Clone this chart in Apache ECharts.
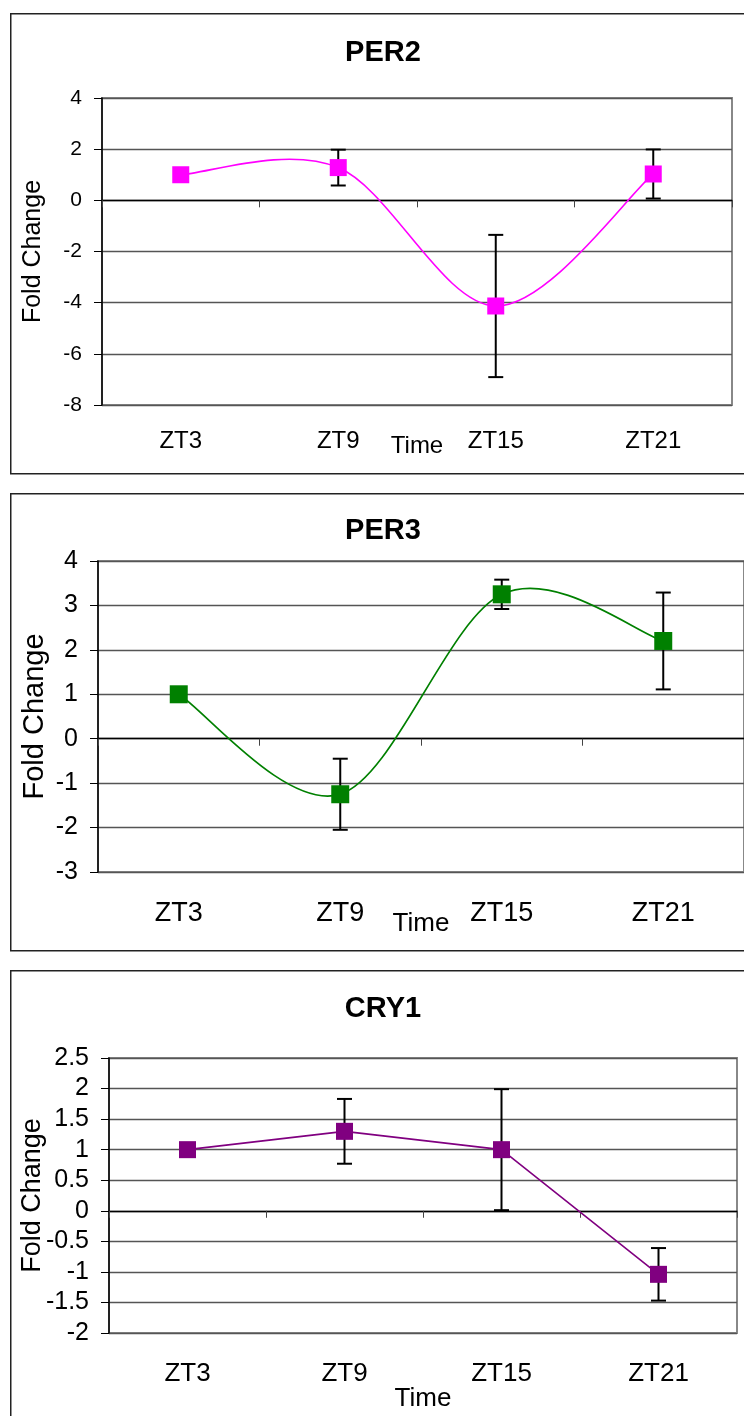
<!DOCTYPE html>
<html>
<head>
<meta charset="utf-8">
<script src="https://cdn.jsdelivr.net/npm/echarts@6/dist/echarts.min.js"></script>
<style>
  html, body { margin: 0; padding: 0; background: #fff; }
  #chart { width: 744px; height: 1416px; }
</style>
</head>
<body>
<div id="chart"></div>
<script>
// Sampling times shared by the three genes
const timePoints = ['ZT3', 'ZT9', 'ZT15', 'ZT21'];

// PER2 fold change (mean and error half-width per time point)
const per2Values = [1.0, 1.28, -4.13, 1.03];
const per2Errors = [0, 0.70, 2.78, 0.96];
const per2Ticks = [-8, -6, -4, -2, 0, 2, 4];

// PER3 fold change
const per3Values = [1.0, -1.25, 3.25, 2.2];
const per3Errors = [0, 0.80, 0.33, 1.09];
const per3Ticks = [-3, -2, -1, 0, 1, 2, 3, 4];

// CRY1 fold change
const cry1Values = [1.0, 1.30, 1.0, -1.04];
const cry1Errors = [0, 0.53, 0.99, 0.43];
const cry1Ticks = [-2, -1.5, -1, -0.5, 0, 0.5, 1, 1.5, 2, 2.5];

const FONT = '"Liberation Sans", Arial, sans-serif';

const panels = [
  {
    title: 'PER2', values: per2Values, errors: per2Errors, ticks: per2Ticks,
    color: '#FF00FF', smooth: true,
    frame: { top: 13, height: 460 }, titleY: 53,
    grid: { left: 102, top: 98, width: 630, height: 307 },
    tickFont: 21, catFont: 24, catMargin: 36, timeFont: 24, timeGap: 41,
    yNameFont: 25, yNameGap: 56, symbolSize: 17
  },
  {
    title: 'PER3', values: per3Values, errors: per3Errors, ticks: per3Ticks,
    color: '#008000', smooth: true,
    frame: { top: 493, height: 457 }, titleY: 531,
    grid: { left: 98, top: 561, width: 652, height: 311 },
    tickFont: 25, catFont: 27, catMargin: 42, timeFont: 26, timeGap: 52,
    yNameFont: 29, yNameGap: 49, symbolSize: 18
  },
  {
    title: 'CRY1', values: cry1Values, errors: cry1Errors, ticks: cry1Ticks,
    color: '#800080', smooth: false,
    frame: { top: 970, height: 470 }, titleY: 1009,
    grid: { left: 109, top: 1058, width: 628, height: 275 },
    tickFont: 25, catFont: 26, catMargin: 41, timeFont: 26, timeGap: 66,
    yNameFont: 27, yNameGap: 63, symbolSize: 17
  }
];

// Vertical error bar with caps, drawn in data space
function errorBarItem(params, api) {
  const x = api.value(0);
  const lo = api.coord([x, api.value(1)]);
  const hi = api.coord([x, api.value(2)]);
  const cap = 7.5;
  const style = { stroke: '#000', lineWidth: 2 };
  return {
    type: 'group',
    children: [
      { type: 'line', shape: { x1: hi[0], y1: hi[1], x2: lo[0], y2: lo[1] }, style },
      { type: 'line', shape: { x1: hi[0] - cap, y1: hi[1], x2: hi[0] + cap, y2: hi[1] }, style },
      { type: 'line', shape: { x1: lo[0] - cap, y1: lo[1], x2: lo[0] + cap, y2: lo[1] }, style }
    ]
  };
}

// Smoothed connector (Catmull-Rom style Bezier through neighbouring points)
function smoothSegment(values, color) {
  return function (params, api) {
    const k = params.dataIndex;
    const n = values.length;
    if (k >= n - 1) return null;
    const pt = (j) => {
      const jj = Math.max(0, Math.min(n - 1, j));
      return api.coord([jj, values[jj]]);
    };
    const p0 = pt(k - 1), p1 = pt(k), p2 = pt(k + 1), p3 = pt(k + 2);
    return {
      type: 'bezierCurve',
      shape: {
        x1: p1[0], y1: p1[1],
        cpx1: p1[0] + (p2[0] - p0[0]) / 6, cpy1: p1[1] + (p2[1] - p0[1]) / 6,
        cpx2: p2[0] - (p3[0] - p1[0]) / 6, cpy2: p2[1] - (p3[1] - p1[1]) / 6,
        x2: p2[0], y2: p2[1]
      },
      style: { stroke: color, lineWidth: 1.6, fill: null }
    };
  };
}

const grids = [], xAxes = [], yAxes = [], series = [], graphics = [];

panels.forEach((p, i) => {
  grids.push(Object.assign({
    show: true, borderColor: '#888', borderWidth: 2, backgroundColor: 'transparent'
  }, p.grid));

  // category labels along the bottom of the plot
  xAxes.push({
    type: 'category', data: timePoints, gridIndex: i, position: 'bottom',
    boundaryGap: true,
    axisLine: { show: false, onZero: false },
    axisTick: { show: false },
    splitLine: { show: false },
    axisLabel: {
      color: '#000', fontFamily: FONT, fontSize: p.catFont,
      margin: p.catMargin, verticalAlign: 'middle'
    },
    name: 'Time', nameLocation: 'middle', nameGap: p.timeGap, nameMoveOverlap: false,
    nameTextStyle: { color: '#000', fontFamily: FONT, fontSize: p.timeFont, verticalAlign: 'middle' }
  });
  // axis line crossing at zero, with tick marks between categories
  xAxes.push({
    type: 'category', data: timePoints, gridIndex: i, position: 'top',
    boundaryGap: true,
    axisLine: { show: true, onZero: true, lineStyle: { color: '#000', width: 1.3 } },
    axisTick: { show: true, inside: true, length: 7, lineStyle: { color: '#444', width: 1 } },
    axisLabel: { show: false },
    splitLine: { show: false }
  });

  const t = p.ticks;
  yAxes.push({
    type: 'value', gridIndex: i,
    min: t[0], max: t[t.length - 1], interval: t[1] - t[0],
    axisLine: { show: true, onZero: false, lineStyle: { color: '#000', width: 1.5 } },
    axisTick: { show: true, length: 8, lineStyle: { color: '#000', width: 1 } },
    axisLabel: { color: '#000', fontFamily: FONT, fontSize: p.tickFont, margin: 20 },
    splitLine: { show: true, lineStyle: { color: '#555', width: 1.3 } },
    name: 'Fold Change', nameLocation: 'middle', nameRotate: 90, nameGap: p.yNameGap,
    nameMoveOverlap: false,
    nameTextStyle: { color: '#000', fontFamily: FONT, fontSize: p.yNameFont }
  });

  const errData = [];
  p.values.forEach((v, k) => {
    if (p.errors[k] > 0) errData.push([k, v - p.errors[k], v + p.errors[k]]);
  });
  series.push({
    type: 'custom', xAxisIndex: i * 2, yAxisIndex: i, z: 2,
    renderItem: errorBarItem,
    encode: { x: 0, y: [1, 2] },
    data: errData,
    silent: true
  });

  if (p.smooth) {
    series.push({
      type: 'custom', xAxisIndex: i * 2, yAxisIndex: i, z: 2.5,
      renderItem: smoothSegment(p.values, p.color),
      encode: { x: 0, y: 1 },
      data: p.values.map((v, k) => [k, v]),
      silent: true
    });
  }
  series.push({
    type: 'line', name: p.title, xAxisIndex: i * 2, yAxisIndex: i, z: 3,
    data: p.values,
    symbol: 'rect', symbolSize: p.symbolSize, showAllSymbol: true,
    itemStyle: { color: p.color, opacity: 1 },
    lineStyle: p.smooth ? { width: 0, opacity: 0 } : { color: p.color, width: 1.6 },
    silent: true
  });

  // chart frame and title
  graphics.push({
    type: 'rect', left: 10, top: p.frame.top, z: -1,
    shape: { width: 760, height: p.frame.height },
    style: { fill: 'transparent', stroke: '#222', lineWidth: 1.5 }
  });
  graphics.push({
    type: 'text', x: 383, y: p.titleY,
    style: {
      text: p.title, fill: '#000', font: 'bold 29px ' + FONT,
      textAlign: 'center', textVerticalAlign: 'middle'
    }
  });
});

const chart = echarts.init(document.getElementById('chart'), null, { renderer: 'canvas' });
chart.setOption({
  animation: false,
  backgroundColor: '#fff',
  grid: grids,
  xAxis: xAxes,
  yAxis: yAxes,
  series: series,
  graphic: graphics
});
</script>
</body>
</html>
